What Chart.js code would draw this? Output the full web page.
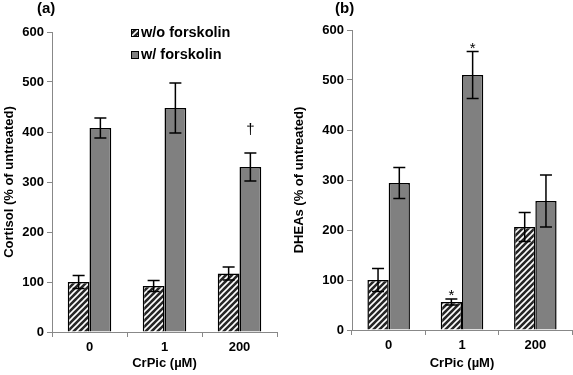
<!DOCTYPE html>
<html>
<head>
<meta charset="utf-8">
<script src="https://cdn.jsdelivr.net/npm/chart.js@4/dist/chart.umd.min.js"></script>
<style>
  body { margin: 0; background: #fff; }
  #wrap { position: relative; width: 573px; height: 375px; }
  #chartA { position: absolute; left: 0; top: 0; }
  #chartB { position: absolute; left: 286px; top: 0; }
</style>
</head>
<body>
<div id="wrap">
  <canvas id="chartA" width="286" height="375"></canvas>
  <canvas id="chartB" width="287" height="375"></canvas>
</div>
<script>
// CrPic effect on cortisol (a) and DHEAs (b), with and without forskolin

const categories = ['0', '1', '200'];
const seriesNames = ['w/o forskolin', 'w/ forskolin'];

const cortisolWithout = [100, 92, 117];
const cortisolWithoutErr = [13, 11, 13];
const cortisolWith = [408, 448, 330];
const cortisolWithErr = [20, 50, 28];

const dheasWithout = [100, 56, 206];
const dheasWithoutErr = [23, 6, 29];
const dheasWith = [294, 510, 258];
const dheasWithErr = [31, 47, 52];

const yTicks = [0, 100, 200, 300, 400, 500, 600];

// significance marks: which series, which category, value where the mark sits
const cortisolMarks = [{ series: 1, index: 2, value: 405, text: '\u2020' }];
const dheasMarks = [
  { series: 1, index: 1, value: 570, text: '*' },
  { series: 0, index: 1, value: 76, text: '*' }
];

const FONT = "'Liberation Sans', Arial, sans-serif";

function hatchPattern() {
  const s = 6;
  const c = document.createElement('canvas');
  c.width = s; c.height = s;
  const g = c.getContext('2d');
  g.fillStyle = '#262626';
  g.fillRect(0, 0, s, s);
  g.strokeStyle = '#fff';
  g.lineWidth = 1.6;
  g.beginPath();
  g.moveTo(-1, s + 1); g.lineTo(s + 1, -1);
  g.moveTo(-1, 1); g.lineTo(1, -1);
  g.moveTo(s - 1, s + 1); g.lineTo(s + 1, s - 1);
  g.stroke();
  return g.createPattern(c, 'repeat');
}
const hatch = hatchPattern();

const errorBars = {
  id: 'errorBars',
  afterDatasetsDraw(chart) {
    const ctx = chart.ctx;
    const y = chart.scales.y;
    ctx.save();
    ctx.strokeStyle = '#000';
    ctx.lineWidth = 1.5;
    chart.data.datasets.forEach((ds, i) => {
      const meta = chart.getDatasetMeta(i);
      meta.data.forEach((bar, j) => {
        const v = ds.data[j], e = ds.errors[j];
        const top = y.getPixelForValue(v + e);
        const bot = y.getPixelForValue(v - e);
        ctx.beginPath();
        ctx.moveTo(bar.x, top); ctx.lineTo(bar.x, bot);
        ctx.moveTo(bar.x - 6, top); ctx.lineTo(bar.x + 6, top);
        ctx.moveTo(bar.x - 6, bot); ctx.lineTo(bar.x + 6, bot);
        ctx.stroke();
      });
    });
    const marks = chart.options.plugins.errorBars.marks;
    ctx.fillStyle = '#000';
    ctx.font = '15px ' + FONT;
    ctx.textAlign = 'center';
    ctx.textBaseline = 'middle';
    marks.forEach(m => {
      const bar = chart.getDatasetMeta(m.series).data[m.index];
      const py = y.getPixelForValue(m.value) + (m.text === '*' ? 4 : 0);
      ctx.fillText(m.text, bar.x, py);
    });
    ctx.restore();
  }
};

const panelText = {
  id: 'panelText',
  afterDraw(chart) {
    const o = chart.options.plugins.panelText;
    const ctx = chart.ctx;
    ctx.save();
    ctx.fillStyle = '#000';
    ctx.font = 'bold 15px ' + FONT;
    ctx.textBaseline = 'middle';
    ctx.textAlign = 'left';
    ctx.fillText(o.label, o.labelX, 9);
    if (o.legend) {
      const lx = 131;
      ctx.font = 'bold 14.5px ' + FONT;
      [[33, hatch], [55, '#808080']].forEach(([ly, fill], i) => {
        ctx.fillStyle = fill;
        ctx.fillRect(lx, ly - 4, 8, 8);
        ctx.strokeStyle = '#000';
        ctx.lineWidth = 1;
        ctx.strokeRect(lx + 0.5, ly - 3.5, 7, 7);
        ctx.fillStyle = '#000';
        ctx.fillText(seriesNames[i], lx + 10, ly);
      });
    }
    ctx.restore();
  }
};

function makeChart(id, without, withoutErr, withF, withErr, marks, opts) {
  return new Chart(document.getElementById(id), {
    type: 'bar',
    data: {
      labels: categories,
      datasets: [
        { label: seriesNames[0], data: without, errors: withoutErr,
          backgroundColor: hatch, borderColor: '#000', borderWidth: 1.5 },
        { label: seriesNames[1], data: withF, errors: withErr,
          backgroundColor: '#808080', borderColor: '#000', borderWidth: 1.5 }
      ]
    },
    options: {
      responsive: false,
      animation: false,
      layout: { padding: { left: 0, right: opts.padRight, top: opts.top, bottom: 0 } },
      datasets: { bar: { categoryPercentage: 0.58, barPercentage: 1.0 } },
      plugins: {
        legend: { display: false },
        tooltip: { enabled: false },
        errorBars: { marks: marks },
        panelText: { label: opts.label, labelX: opts.labelX, legend: opts.legend }
      },
      scales: {
        x: {
          afterFit: s => { s.height = opts.xHeight; },
          grid: { display: true, drawOnChartArea: false, tickLength: 5, color: '#888', offset: true },
          border: { display: true, color: '#888' },
          ticks: { color: '#000', padding: 3, font: { family: FONT, size: 13, weight: 'bold' } },
          title: { display: true, text: 'CrPic (\u00b5M)', color: '#000', padding: { top: 2, bottom: 4 },
                   font: { family: FONT, size: 13, weight: 'bold' } }
        },
        y: {
          min: 0, max: 600,
          afterFit: s => { s.width = opts.yWidth; },
          afterBuildTicks: s => { s.ticks = yTicks.map(v => ({ value: v })); },
          grid: { display: true, drawOnChartArea: false, tickLength: 5, color: '#888' },
          border: { display: true, color: '#888' },
          ticks: { color: '#000', padding: 3, font: { family: FONT, size: 13, weight: 'bold' } },
          title: { display: true, text: opts.yTitle, color: '#000', padding: { top: opts.yTitlePad, bottom: 0 },
                   font: { family: FONT, size: 13, weight: 'bold' } }
        }
      }
    },
    plugins: [errorBars, panelText]
  });
}

makeChart('chartA', cortisolWithout, cortisolWithoutErr, cortisolWith, cortisolWithErr, cortisolMarks,
  { label: '(a)', labelX: 37, legend: true, padRight: 9, top: 32, xHeight: 43, yWidth: 52,
    yTitle: 'Cortisol (% of untreated)', yTitlePad: 2 });

makeChart('chartB', dheasWithout, dheasWithoutErr, dheasWith, dheasWithErr, dheasMarks,
  { label: '(b)', labelX: 49, legend: false, padRight: 1, top: 30, xHeight: 45, yWidth: 66,
    yTitle: 'DHEAs (% of untreated)', yTitlePad: 6 });
</script>
</body>
</html>
